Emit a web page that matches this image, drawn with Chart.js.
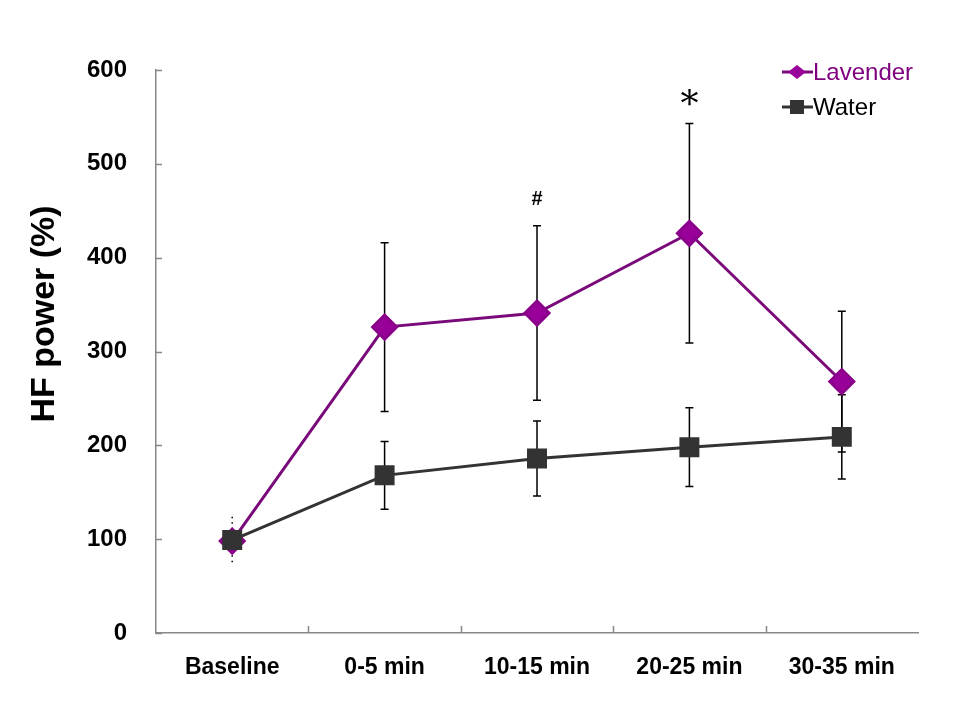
<!DOCTYPE html>
<html lang="en">
  <head>
    <meta charset="UTF-8"/>
    <title>HF power</title>
    <style>
      html, body { margin: 0; padding: 0; background: #fff; }
      #wrap { width: 960px; height: 720px; }
    </style>
  </head>
  <body>
  <div id="wrap">
    <canvas id="myChart" width="960" height="720"></canvas>
  </div>
  <script src="https://cdn.jsdelivr.net/npm/chart.js"></script>
  <script>
    // data
    var labels = ['Baseline', '0-5 min', '10-15 min', '20-25 min', '30-35 min'];
    var lavender = [98, 326, 341, 426, 268];
    var lavenderErr = [26, 90, 93, 117, 75];
    var water = [99, 168, 186, 198, 209];
    var waterErr = [0, 36, 40, 42, 45];
    var yTicks = [0, 100, 200, 300, 400, 500, 600];
    var yTitle = 'HF power (%)';
    // significance marks: [category index, value, symbol]
    var marks = [[2, 462, '#'], [3, 568, '*']];

    const data = {
      labels: labels,
      datasets: [{
        label: 'Lavender',
        data: lavender,
        err: lavenderErr,
        order: 1,
        borderColor: '#7a0a7a',
        backgroundColor: '#990099',
        pointBackgroundColor: '#990099',
        pointBorderColor: '#8a008a',
        pointStyle: 'rectRot',
        pointRadius: 12,
        borderWidth: 3,
        textColor: '#800080',
      },
      {
        label: 'Water',
        data: water,
        err: waterErr,
        order: 0,
        borderColor: '#333333',
        backgroundColor: '#333333',
        pointBackgroundColor: '#333333',
        pointBorderColor: '#333333',
        pointStyle: 'rect',
        pointRadius: 12,
        borderWidth: 3,
        textColor: '#000000',
      }]
    };

    // error bars, drawn under the markers
    const errorBars = {
      id: 'errorBars',
      beforeDatasetsDraw(chart) {
        const ctx = chart.ctx;
        const x = chart.scales.x, y = chart.scales.y;
        ctx.save();
        ctx.strokeStyle = '#000';
        chart.data.datasets.forEach((ds) => {
          ds.data.forEach((v, i) => {
            const e = ds.err[i];
            if (!e) return;
            const px = x.getPixelForValue(i);
            const top = y.getPixelForValue(v + e);
            const bot = y.getPixelForValue(v - e);
            ctx.lineWidth = 1.5;
            ctx.setLineDash(i === 0 ? [1.5, 4] : []);
            ctx.beginPath();
            ctx.moveTo(px, top); ctx.lineTo(px, bot);
            if (i !== 0) {
              ctx.moveTo(px - 4, top); ctx.lineTo(px + 4, top);
              ctx.moveTo(px - 4, bot); ctx.lineTo(px + 4, bot);
            }
            ctx.stroke();
          });
        });
        ctx.restore();
      }
    };

    // inward axis ticks, axis title, significance marks and legend
    const extras = {
      id: 'extras',
      afterDraw(chart) {
        const ctx = chart.ctx;
        const x = chart.scales.x, y = chart.scales.y;
        const a = chart.chartArea;
        ctx.save();
        ctx.strokeStyle = '#888';
        ctx.lineWidth = 1.5;
        ctx.beginPath();
        yTicks.forEach((t) => {
          const py = Math.round(y.getPixelForValue(t)) + 0.5;
          ctx.moveTo(a.left, py); ctx.lineTo(a.left + 6, py);
        });
        for (let i = 0; i < labels.length - 1; i++) {
          const px = Math.round((x.getPixelForValue(i) + x.getPixelForValue(i + 1)) / 2) + 0.5;
          ctx.moveTo(px, a.bottom); ctx.lineTo(px, a.bottom - 7);
        }
        ctx.stroke();

        // y axis title
        ctx.save();
        ctx.translate(45, 314);
        ctx.rotate(-Math.PI / 2);
        ctx.fillStyle = '#000';
        ctx.font = 'bold 34px "Liberation Sans", Arial, sans-serif';
        ctx.textAlign = 'center';
        ctx.textBaseline = 'middle';
        ctx.fillText(yTitle, 0, 0);
        ctx.restore();

        ctx.fillStyle = '#000';
        ctx.textAlign = 'center';
        ctx.textBaseline = 'middle';
        marks.forEach((m) => {
          ctx.font = m[2] === '*' ? '36px "DejaVu Serif", serif' : 'bold 20px "Liberation Sans", Arial, sans-serif';
          ctx.fillText(m[2], x.getPixelForValue(m[0]), y.getPixelForValue(m[1]) + (m[2] === '*' ? 7 : 0));
        });

        // legend
        chart.data.datasets.forEach((ds, k) => {
          const ly = 72 + k * 35;
          const lx = a.right - 136;
          ctx.strokeStyle = ds.borderColor;
          ctx.lineWidth = 3;
          ctx.setLineDash([]);
          ctx.beginPath();
          ctx.moveTo(lx, ly); ctx.lineTo(lx + 31, ly);
          ctx.stroke();
          ctx.fillStyle = ds.pointBackgroundColor;
          ctx.beginPath();
          if (ds.pointStyle === 'rectRot') {
            ctx.moveTo(lx + 15, ly - 7); ctx.lineTo(lx + 24, ly);
            ctx.lineTo(lx + 15, ly + 7); ctx.lineTo(lx + 6, ly);
            ctx.closePath();
          } else {
            ctx.rect(lx + 8, ly - 7, 14, 14);
          }
          ctx.fill();
          ctx.fillStyle = ds.textColor;
          ctx.font = '24px "Liberation Sans", Arial, sans-serif';
          ctx.textAlign = 'left';
          ctx.fillText(ds.label, lx + 31, ly + 1);
        });
        ctx.restore();
      }
    };

    const config = {
      type: 'line',
      data,
      options: {
        responsive: false,
        animation: false,
        layout: { padding: { top: 70, right: 42, left: 0, bottom: 0 } },
        plugins: { legend: { display: false }, tooltip: { enabled: false } },
        elements: { line: { tension: 0 } },
        scales: {
          x: {
            offset: true,
            grid: { display: false, drawTicks: false },
            border: { display: true, color: '#888', width: 1.5 },
            ticks: {
              color: '#000',
              padding: 21,
              font: { family: '"Liberation Sans Narrow", "Liberation Sans", Arial, sans-serif', weight: 'bold', size: 23 }
            },
            afterFit: (s) => { s.height = 87; }
          },
          y: {
            min: 0,
            max: 600,
            afterBuildTicks: (s) => { s.ticks = yTicks.map((v) => ({ value: v })); },
            grid: { display: false, drawTicks: false },
            border: { display: true, color: '#888', width: 1.5 },
            ticks: {
              color: '#000',
              padding: 29,
              font: { family: '"Liberation Sans", Arial, sans-serif', weight: 'bold', size: 24 }
            },
            afterFit: (s) => { s.width = 156; }
          }
        }
      },
      plugins: [errorBars, extras]
    };
    var myChart = new Chart(
      document.getElementById('myChart'),
      config
    );
  </script>
  </body>
</html>
